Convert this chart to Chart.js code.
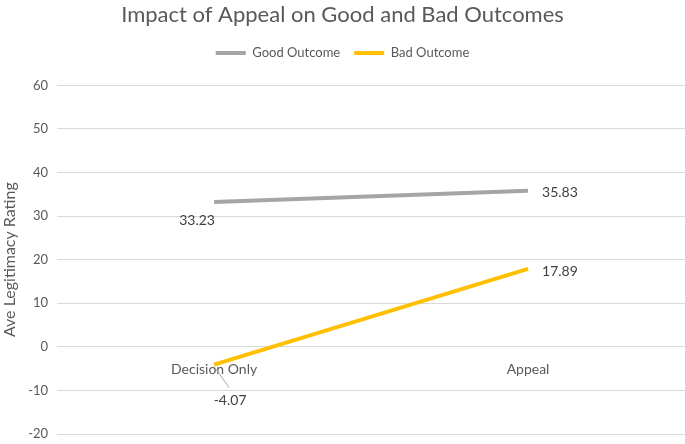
<!DOCTYPE html>
<html>
<head>
<meta charset="UTF-8">
<script src="https://cdn.jsdelivr.net/npm/chart.js@4.4.1/dist/chart.umd.min.js"></script>
<title>Impact of Appeal</title>
<style>
	html, body { margin: 0; padding: 0; background: #fff; }
	.content { width: 685px; height: 444px; }
</style>
</head>
<body>
	<div class="content">
		<canvas id="lineChart" width="685" height="444"></canvas>
	</div>
	<script>
		var categories = ["Decision Only", "Appeal"];
		var goodOutcome = [33.23, 35.83];
		var badOutcome = [-4.07, 17.89];
		var yTicks = [-20, -10, 0, 10, 20, 30, 40, 50, 60];

		// where each value label sits relative to its point (dx, dy, align, leader line)
		var labelPlace = [
			[{ dx: -17, dy: 18, align: "center" }, { dx: 14, dy: 2, align: "left" }],
			[{ dx: 16, dy: 36, align: "center", leader: true }, { dx: 14, dy: 3, align: "left" }]
		];

		var valueLabels = {
			id: "valueLabels",
			afterDatasetsDraw: function(chart) {
				var ctx = chart.ctx;
				ctx.save();
				ctx.font = "14px Lato";
				ctx.fillStyle = "#404040";
				ctx.textBaseline = "middle";
				chart.data.datasets.forEach(function(ds, i) {
					var meta = chart.getDatasetMeta(i);
					meta.data.forEach(function(pt, j) {
						var p = labelPlace[i][j];
						var x = pt.x + p.dx, y = pt.y + p.dy;
						if (p.leader) {
							ctx.strokeStyle = "#a6a6a6";
							ctx.lineWidth = 1;
							ctx.beginPath();
							ctx.moveTo(pt.x, pt.y + 2);
							ctx.lineTo(x - 1, y - 13);
							ctx.stroke();
						}
						ctx.textAlign = p.align;
						ctx.fillText(ds.data[j].toFixed(2), x, y);
					});
				});
				ctx.restore();
			}
		};

		// extra room below the legend
		var legendGap = {
			id: "legendGap",
			beforeInit: function(chart) {
				var fit = chart.legend.fit;
				chart.legend.fit = function() {
					fit.bind(chart.legend)();
					this.height += 16;
				};
			}
		};

		function drawChart() {
			var ctxL = document.getElementById("lineChart").getContext("2d");
			new Chart(ctxL, {
				type: "line",
				data: {
					labels: categories,
					datasets: [{
						label: "Good Outcome",
						borderColor: "#a5a5a5",
						backgroundColor: "#a5a5a5",
						borderWidth: 4,
						pointRadius: 0,
						fill: false,
						data: goodOutcome
					}, {
						label: "Bad Outcome",
						borderColor: "#ffc000",
						backgroundColor: "#ffc000",
						borderWidth: 4,
						pointRadius: 0,
						fill: false,
						data: badOutcome
					}]
				},
				plugins: [valueLabels, legendGap],
				options: {
					responsive: false,
					animation: false,
					layout: { padding: { left: 0, right: 0, top: 0, bottom: 10 } },
					elements: { line: { tension: 0 } },
					plugins: {
						title: {
							display: true,
							text: "Impact of Appeal on Good and Bad Outcomes",
							color: "#595959",
							font: { family: "Lato", size: 22, weight: "normal" },
							padding: { top: 2, bottom: 4 }
						},
						legend: {
							display: true,
							labels: {
								color: "#595959",
								font: { family: "Lato", size: 13 },
								boxWidth: 30,
								boxHeight: 4,
								padding: 14,
								generateLabels: function(chart) {
									return chart.data.datasets.map(function(ds, i) {
										return {
											text: ds.label,
											fillStyle: ds.borderColor,
											strokeStyle: ds.borderColor,
											lineWidth: 0,
											datasetIndex: i,
											fontColor: "#595959"
										};
									});
								}
							}
						},
						tooltip: { enabled: false }
					},
					scales: {
						x: {
							type: "category",
							offset: true,
							position: { y: 0 },
							afterFit: function(axis) {
								axis.height = 0;
								axis.paddingTop = 0;
								axis.paddingBottom = 0;
							},
							grid: { display: false },
							border: { display: false },
							ticks: {
								color: "#595959",
								font: { family: "Lato", size: 14 },
								padding: 6
							}
						},
						y: {
							min: yTicks[0],
							max: yTicks[yTicks.length - 1],
							afterBuildTicks: function(axis) {
								axis.ticks = yTicks.map(function(v) { return { value: v }; });
							},
							afterFit: function(axis) { axis.paddingBottom = 0; },
							grid: { color: "#d9d9d9", lineWidth: 1, drawTicks: false },
							border: { display: false },
							ticks: {
								color: "#595959",
								font: { family: "Lato", size: 13 },
								padding: 9
							},
							title: {
								display: true,
								text: "Ave Legitimacy Rating",
								color: "#595959",
								font: { family: "Lato", size: 16 },
								padding: { top: 0, bottom: 0 }
							}
						}
					}
				}
			});
		}

		drawChart();
	</script>
</body>
</html>
